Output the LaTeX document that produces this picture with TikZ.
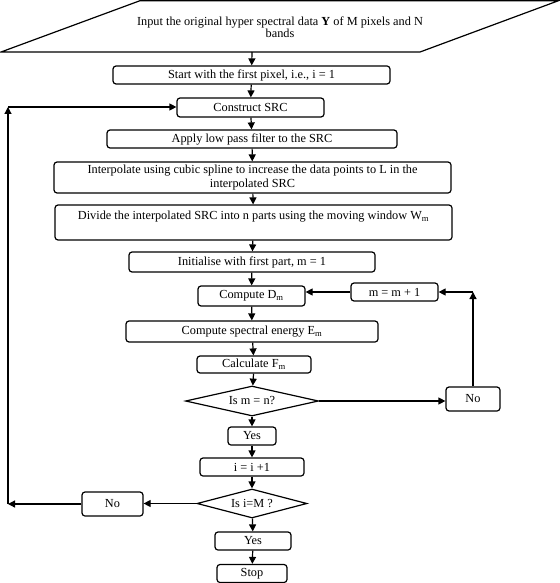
\documentclass[tikz,border=0pt]{standalone}
\usepackage{fontspec}
\setmainfont{Liberation Serif}
\usetikzlibrary{shapes.geometric,arrows.meta}
\begin{document}
\begin{tikzpicture}[x=1pt,y=-1pt,
    txt/.style={font=\fontsize{12.3}{14.5}\selectfont},
    box/.style={txt,draw,rounded corners=3pt,line width=1.2pt,inner sep=0pt,align=center},
    dec/.style={txt,draw,diamond,aspect=4.4,line width=1.2pt,inner sep=0pt},
    arr/.style={line width=1.2pt,-{Triangle[length=7pt,width=7pt]}}]

    \useasboundingbox (0,0) rectangle (559,583);

    % input data
    \draw[line width=1.2pt] (1,52) -- (140,0.7) -- (558.5,0.7) -- (420,52) -- cycle;
    \node[txt,align=center,font=\fontsize{12.3}{12.5}\selectfont] (input) at (280,27)
        {Input the original hyper spectral data \textbf{Y} of M pixels and N\\bands};
    \coordinate (inbot) at (252,52);

    % main column
    \node[box,minimum width=277pt,minimum height=18pt] (start) at (251.5,75) {Start with the first pixel, i.e., i = 1};
    \node[box,minimum width=147pt,minimum height=19pt] (construct) at (250.5,107.5) {Construct SRC};
    \node[box,minimum width=290pt,minimum height=18pt] (apply) at (252,139) {Apply low pass filter to the SRC};
    \node[box,minimum width=397pt,minimum height=31pt] (interp) at (252.5,177.5)
        {Interpolate using cubic spline to increase the data points to L in the\\interpolated SRC};
    \node[box,minimum width=397pt,minimum height=35pt] (divide) at (253.5,222.5)
        {Divide the interpolated SRC into n parts using the moving window W\textsubscript{m}\\~};
    \node[box,minimum width=246pt,minimum height=20pt] (init) at (252,262) {Initialise with first part, m = 1};
    \node[box,minimum width=107pt,minimum height=20pt] (computeD) at (251.5,296) {Compute D\textsubscript{m}};
    \node[box,minimum width=87pt,minimum height=18pt] (minc) at (394.5,292) {m = m + 1};
    \node[box,minimum width=252pt,minimum height=21pt] (energy) at (252,331.5) {Compute spectral energy E\textsubscript{m}};
    \node[box,minimum width=114pt,minimum height=17pt] (calcF) at (254,364.5) {Calculate F\textsubscript{m}};
    \node[dec,minimum width=133pt,minimum height=30pt] (decm) at (252,401) {Is m = n?};
    \node[box,minimum width=54pt,minimum height=24pt] (nor) at (473,399) {No};
    \node[box,minimum width=48pt,minimum height=18pt] (yes1) at (252,436) {Yes};
    \node[box,minimum width=104pt,minimum height=18pt] (inc) at (252,467) {i = i +1};
    \node[dec,minimum width=110pt,minimum height=29pt] (deci) at (252,503.5) {Is i=M ?};
    \node[box,minimum width=61pt,minimum height=24pt] (nol) at (112.5,504) {No};
    \node[box,minimum width=76pt,minimum height=18pt] (yes2) at (253,541) {Yes};
    \node[box,minimum width=70pt,minimum height=18pt] (stop) at (252,573.5) {Stop};

    \coordinate (rtop) at (473,292);
    \coordinate (lbot) at (8,504);
    \coordinate (ltop) at (8,107);

    % arrows
    \draw[arr] (inbot) -- (start);
    \foreach \a/\b in {start/construct, construct/apply, apply/interp, interp/divide,
        divide/init, init/computeD, computeD/energy, energy/calcF, calcF/decm,
        decm/yes1, yes1/inc, inc/deci, deci/yes2, yes2/stop}
    \draw[arr] (\a) -- (\b);

    \draw[arr] (decm.east) -- (nor.west |- decm.east);
    \draw[arr] (nor.north) -- (rtop);
    \draw[arr] (rtop) -- (minc.east |- rtop);
    \draw[arr] (minc.west) -- (computeD.east |- minc.west);

    \draw[arr] (deci.west) -- (nol.east |- deci.west);
    \draw[arr] (nol.west) -- (lbot);
    \draw[arr] (lbot) -- (ltop);
    \draw[arr] (ltop) -- (construct.west |- ltop);
  \end{tikzpicture}
\end{document}
